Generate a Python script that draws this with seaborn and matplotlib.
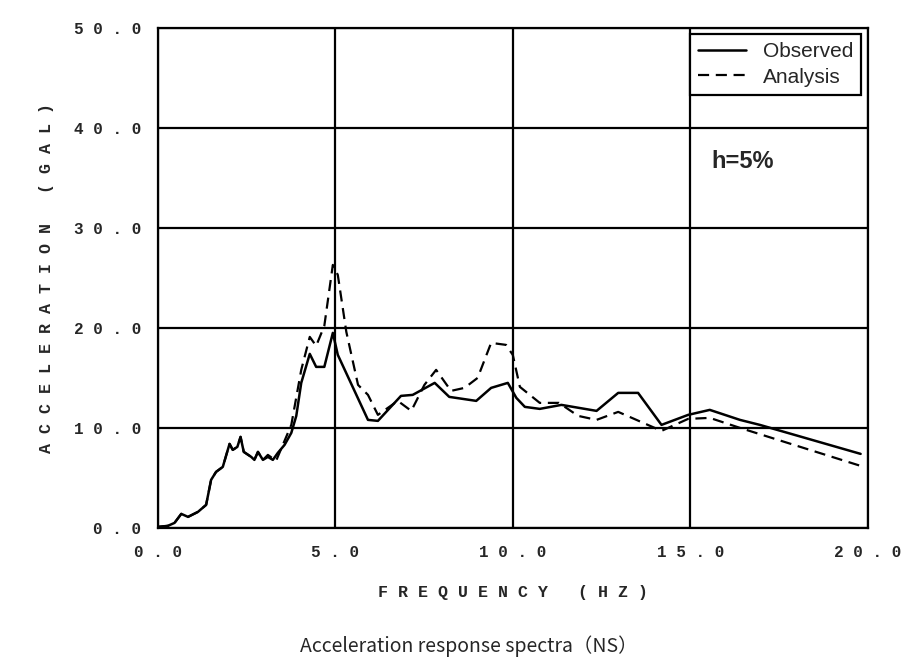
import numpy as np
import matplotlib
matplotlib.use("Agg")
import matplotlib.pyplot as plt
import seaborn as sns

sns.set_style("white")

obs_x = [0.0, 0.28, 0.47, 0.66, 0.85, 1.13, 1.36, 1.5, 1.64, 1.83, 2.02, 2.11, 2.24, 2.33,
         2.42, 2.63, 2.72, 2.82, 2.96, 3.1, 3.24, 3.38, 3.57, 3.76, 3.9, 4.04, 4.28, 4.46,
         4.69, 4.93, 5.07, 5.92, 6.2, 6.85, 7.18, 7.8, 8.21, 8.97, 9.39, 9.86, 10.1, 10.34,
         10.76, 11.37, 12.36, 12.97, 13.53, 14.19, 14.94, 15.55, 16.4, 16.96, 19.8]
obs_y = [0.1, 0.2, 0.5, 1.4, 1.1, 1.6, 2.3, 4.8, 5.6, 6.1, 8.4, 7.8, 8.1, 9.1,
         7.6, 7.1, 6.8, 7.6, 6.8, 7.1, 6.8, 7.5, 8.3, 9.5, 11.2, 14.5, 17.4, 16.1,
         16.1, 19.5, 17.3, 10.8, 10.7, 13.2, 13.3, 14.5, 13.1, 12.7, 14.0, 14.5, 13.0, 12.1,
         11.9, 12.3, 11.7, 13.5, 13.5, 10.3, 11.3, 11.8, 10.8, 10.3, 7.4]

ana_x = [0.0, 0.28, 0.47, 0.66, 0.85, 1.13, 1.36, 1.5, 1.64, 1.83, 2.02, 2.11, 2.24, 2.33,
         2.42, 2.63, 2.72, 2.82, 2.96, 3.1, 3.33, 3.76, 4.04, 4.28, 4.46, 4.69, 4.93, 5.07,
         5.31, 5.64, 5.92, 6.2, 6.76, 7.14, 7.51, 7.84, 8.26, 8.64, 9.01, 9.39, 9.81, 10.0,
         10.2, 10.76, 11.3, 11.84, 12.36, 12.97, 14.19, 14.94, 15.55, 16.4, 19.8]
ana_y = [0.1, 0.2, 0.5, 1.4, 1.1, 1.6, 2.3, 4.8, 5.6, 6.1, 8.4, 7.8, 8.1, 9.1,
         7.6, 7.1, 6.8, 7.6, 6.8, 7.3, 6.7, 10.3, 15.8, 19.1, 18.2, 20.2, 26.3, 25.3,
         19.6, 14.3, 13.3, 11.3, 12.7, 11.7, 14.3, 15.8, 13.7, 14.0, 15.0, 18.5, 18.3, 17.3,
         14.1, 12.5, 12.5, 11.2, 10.8, 11.6, 9.7, 10.9, 11.0, 10.0, 6.2]

mono = "Liberation Mono"

fig = plt.figure(figsize=(9.02, 6.64), dpi=100)
ax = fig.add_axes([0.175, 0.205, 0.787, 0.753])
sns.lineplot(x=obs_x, y=obs_y, ax=ax, color="black", lw=1.8, label="Observed", sort=False)
sns.lineplot(x=ana_x, y=ana_y, ax=ax, color="black", lw=1.6, ls=(0, (5, 3)), label="Analysis", sort=False)

ax.set_xlim(0, 20)
ax.set_ylim(0, 50)
xt = [0, 5, 10, 15, 20]
yt = [0, 10, 20, 30, 40, 50]
ax.set_xticks(xt)
ax.set_yticks(yt)
ax.set_xticklabels([" ".join(f"{v:.1f}") for v in xt], family=mono, fontweight="bold", fontsize=11.5)
ax.set_yticklabels([" ".join(f"{v:.1f}") for v in yt], family=mono, fontweight="bold", fontsize=11.5)
ax.set_xticks(np.arange(0, 20, 1), minor=True)
ax.tick_params(axis="x", which="minor", direction="in", length=5, width=1)
ax.tick_params(axis="both", which="major", direction="out", length=4, width=1.2, pad=8)
ax.grid(True, which="major", color="black", lw=1.6)
for s in ax.spines.values():
    s.set_color("black")
    s.set_linewidth(1.6)

ax.set_xlabel("F R E Q U E N C Y   ( H Z )", family=mono, fontweight="bold", fontsize=12, labelpad=18)
ax.set_ylabel("A C C E L E R A T I O N   ( G A L )", family=mono, fontweight="bold", fontsize=12, labelpad=14)

leg = ax.legend(loc="upper right", prop={"family": "Liberation Sans", "size": 15}, frameon=True,
                fancybox=False, framealpha=1, edgecolor="black", borderaxespad=0.3,
                handlelength=2.3, labelspacing=0.3)
leg.get_frame().set_linewidth(1.6)
ax.text(15.6, 36.0, "h=5%", fontsize=17, fontweight="bold", family="Liberation Sans")

fig.text(0.52, 0.018, "Acceleration response spectra（NS）", ha="center", fontsize=14,
         family=["Noto Sans CJK JP", "DejaVu Sans"])

fig.savefig("out.png", dpi=100, facecolor="white")
